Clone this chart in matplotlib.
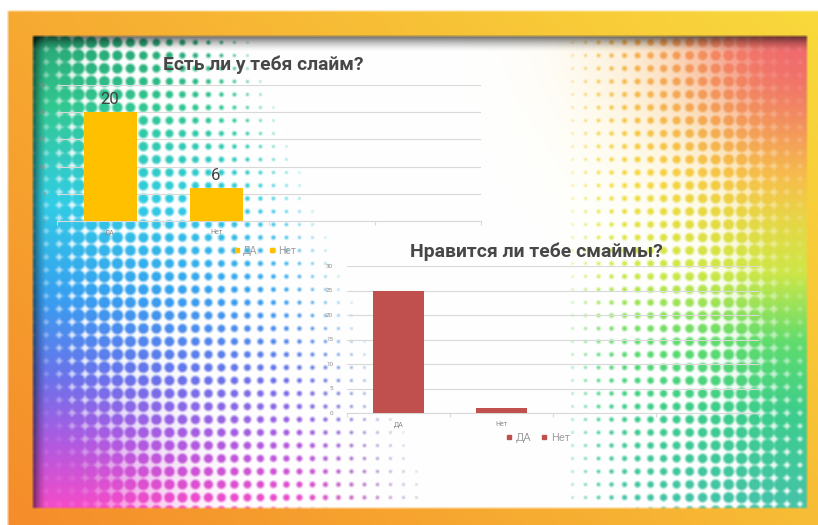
import numpy as np
import matplotlib
matplotlib.use("Agg")
import matplotlib.pyplot as plt
from matplotlib.lines import Line2D

# ---------------- data ----------------
chart1_title = "Есть ли у тебя слайм?"
chart1_categories = ["ДА", "Нет"]
chart1_values = [20, 6]
chart1_legend = ["ДА.", "Нет"]
chart1_yticks = [0, 5, 10, 15, 20, 25]

chart2_title = "Нравится ли тебе смаймы?"
chart2_categories = ["ДА", "Нет"]
chart2_values = [25, 1]
chart2_legend = ["ДА", "Нет"]
chart2_yticks = [0, 5, 10, 15, 20, 25, 30]

FONT = ["Roboto", "DejaVu Sans"]
plt.rcParams["font.family"] = FONT

W, H = 818, 525
fig = plt.figure(figsize=(W / 100, H / 100), dpi=100)
fig.patch.set_facecolor("white")

# ---------------- decorative background (slide) ----------------
yy, xx = np.mgrid[0:H, 0:W].astype(float) + 0.5
img = np.ones((H, W, 3))

orange = np.array([245, 140, 42]) / 255
yellow = np.array([249, 218, 60]) / 255
t = np.clip(0.62 * (xx / W) + 0.38 * (1 - yy / H), 0, 1)[..., None]
frame = orange * (1 - t) + yellow * t
outer = (xx >= 8) & (yy >= 11)
img[outer] = frame[outer]

x0, x1, y0, y1 = 33, 807, 36, 508
inside = (xx >= x0) & (xx < x1) & (yy >= y0) & (yy < y1)
u = (xx - x0) / (x1 - x0)
v = (yy - y0) / (y1 - y0)


def ramp(stops, tt):
    ts = np.array([s[0] for s in stops])
    cs = np.array([s[1] for s in stops], dtype=float) / 255
    return np.stack([np.interp(tt, ts, cs[:, k]) for k in range(3)], axis=-1)


left_stops = [(0.0, (40, 165, 115)), (0.15, (50, 200, 145)), (0.35, (50, 205, 228)),
              (0.55, (55, 160, 240)), (0.72, (105, 115, 235)), (0.86, (175, 90, 225)),
              (1.0, (245, 75, 200))]
right_stops = [(0.0, (248, 200, 70)), (0.3, (248, 228, 60)), (0.5, (205, 235, 70)),
               (0.65, (95, 220, 110)), (0.8, (60, 205, 140)), (1.0, (70, 195, 170))]
col_l = ramp(left_stops, v)
col_r = ramp(right_stops, v)
wmix = np.clip((u - 0.35) / 0.3, 0, 1)[..., None]
col = col_l * (1 - wmix) + col_r * wmix
salmon = np.array([240, 105, 110]) / 255
F2 = np.exp(-(((u - 1) / 0.2) ** 2 + (v / 0.28) ** 2))
col = col * (1 - F2[..., None]) + salmon * F2[..., None]

s = 13.0
cx = x0 + s * (np.floor((xx - x0) / s) + 0.5)
cy = y0 + s * (np.floor((yy - y0) / s) + 0.5)
d = np.hypot(xx - cx, yy - cy)
wL = 0.29 + 0.25 * v
IL = np.clip(1 - u / wL, 0, 1)
IR = np.clip((u - 0.67) / 0.33, 0, 1)
I = np.maximum(IL, IR)
r = 7.4 * I ** 0.85
mask = np.clip((r - d) / 1.4 + 0.5, 0, 1)
mask[r < 0.5] = 0

F1 = np.exp(-((u / 0.14) ** 2 + ((v - 1) / 0.22) ** 2))
F3 = np.exp(-(((u - 1) / 0.07) ** 2 + ((v - 0.5) / 0.3) ** 2))
F4 = np.exp(-((u / 0.04) ** 2)) * 0.7
F = np.clip(F1 + 0.9 * F2 + 0.8 * F3 + F4, 0, 0.9)
alpha = (mask + (1 - mask) * F)[..., None]
slide = (1 - alpha) + col * alpha

a_top = np.clip(1 - (yy - y0) / 16, 0, 1) ** 1.6 * 0.6
a_left = np.clip(1 - (xx - x0) / 14, 0, 1) ** 1.6 * 0.55
dark = 1 - np.clip(a_top + a_left, 0, 0.8)
slide = slide * dark[..., None]
img[inside] = slide[inside]

# light blur
pad = np.pad(img, ((1, 1), (1, 1), (0, 0)), mode="edge")
img = sum(pad[i:i + H, j:j + W] for i in range(3) for j in range(3)) / 9.0

bg = fig.add_axes([0, 0, 1, 1])
bg.imshow(img, aspect="auto", extent=(0, W, H, 0), interpolation="bilinear")
bg.set_xlim(0, W)
bg.set_ylim(H, 0)
bg.axis("off")
bg.set_zorder(0)

GRID = "#D9D9D9"
TICK = "#8C8C8C"
TITLE = "#474747"
LEG = "#A0A0A0"


def fit_width(txt, target):
    rend = fig.canvas.get_renderer()
    w = txt.get_window_extent(renderer=rend).width
    txt.set_fontsize(txt.get_fontsize() * target / w)


def style_axes(ax, yticks, ymax, ypad):
    ax.set_facecolor("none")
    ax.patch.set_alpha(0)
    ax.set_xlim(-0.5, 3.5)
    ax.set_ylim(0, ymax)
    ax.set_yticks(yticks)
    ax.yaxis.grid(True, color=GRID, lw=0.8)
    ax.set_axisbelow(True)
    for sp in ["top", "right", "left"]:
        ax.spines[sp].set_visible(False)
    ax.spines["bottom"].set_color(GRID)
    ax.spines["bottom"].set_linewidth(0.8)
    ax.tick_params(axis="y", length=0, labelsize=4.5, labelcolor=TICK, pad=ypad)
    ax.tick_params(axis="x", which="major", length=0, labelsize=5, labelcolor=TICK, pad=6)
    ax.set_xticks([-0.5, 0.5, 1.5, 2.5, 3.5], minor=True)
    ax.tick_params(axis="x", which="minor", length=3, color=GRID, width=0.8)
    ax.set_zorder(2)


def add_legend(ax, labels, color, center, fs):
    hs = [Line2D([0], [0], marker="s", ls="", color=color, markersize=3.2, label=l)
          for l in labels]
    ax.legend(handles=hs, loc="center", bbox_to_anchor=(center[0] / W, 1 - center[1] / H),
              bbox_transform=fig.transFigure, ncol=len(labels), frameon=False, fontsize=fs,
              labelcolor=LEG, handletextpad=0.35, columnspacing=0.9, handlelength=0.5)


# ---------------- chart 1 ----------------
ax1 = fig.add_axes([57 / W, 1 - 221 / H, 424 / W, 136 / H])
x1pos = np.arange(len(chart1_categories))
ax1.bar(x1pos, chart1_values, width=0.5, color="#FFC000", zorder=3)
style_axes(ax1, chart1_yticks, 25, 8)
ax1.set_xticks(x1pos)
ax1.set_xticklabels(chart1_categories)
for xp, val in zip(x1pos, chart1_values):
    ax1.annotate(str(val), (xp, val), xytext=(0, 4), textcoords="offset points",
                 ha="center", va="bottom", fontsize=12, color="#404040")
add_legend(ax1, chart1_legend, "#FFC000", (265, 251), 7.5)
t1 = fig.text(263 / W, 1 - 65 / H, chart1_title, ha="center", va="center",
              fontsize=11, fontweight="bold", color=TITLE)
fit_width(t1, 200)

# ---------------- chart 2 ----------------
ax2 = fig.add_axes([347 / W, 1 - 413 / H, 412 / W, 147 / H])
x2pos = np.arange(len(chart2_categories))
ax2.bar(x2pos, chart2_values, width=0.49, color="#C0504D", zorder=3)
style_axes(ax2, chart2_yticks, 30, 10)
ax2.set_xticks(x2pos)
ax2.set_xticklabels(chart2_categories)
add_legend(ax2, chart2_legend, "#C0504D", (538, 438), 8)
t2 = fig.text(536 / W, 1 - 252 / H, chart2_title, ha="center", va="center",
              fontsize=12, fontweight="bold", color=TITLE)
fit_width(t2, 252)

fig.savefig("out.png", dpi=100)
